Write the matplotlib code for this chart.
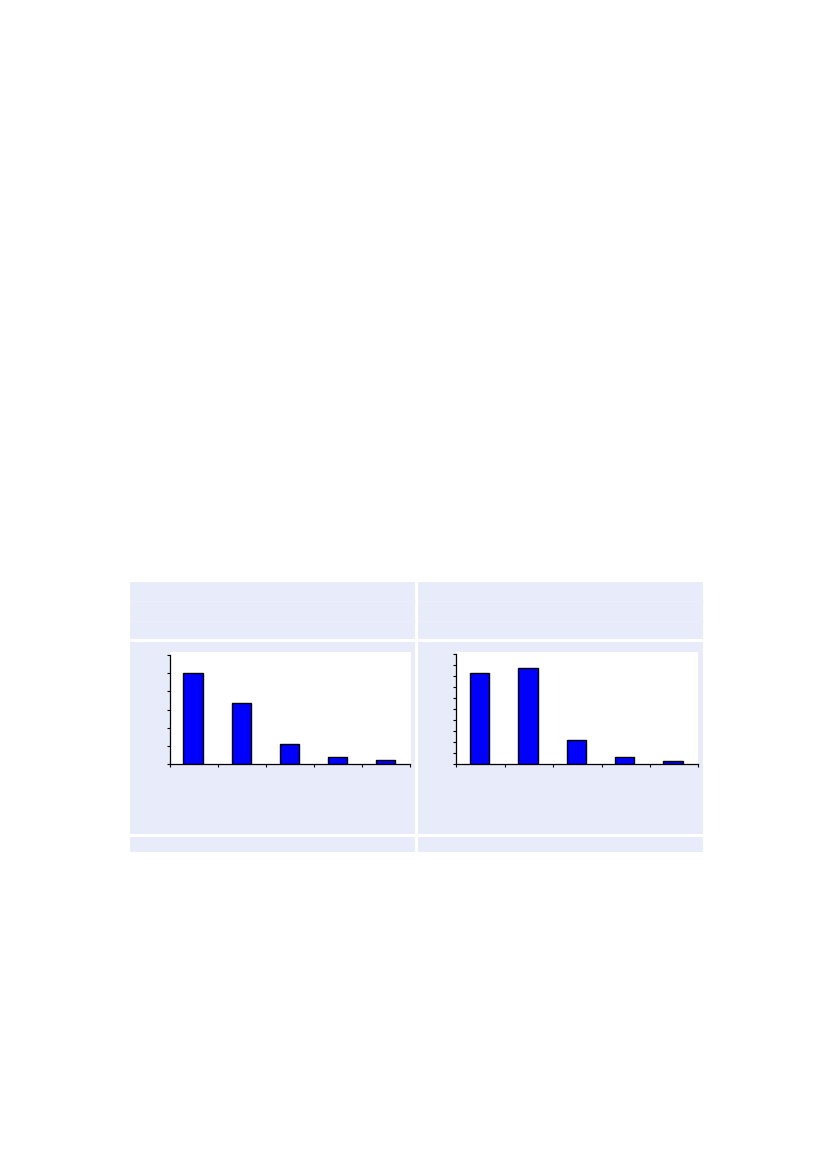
import numpy as np
import matplotlib
matplotlib.use("Agg")
import matplotlib.pyplot as plt
from matplotlib.patches import Rectangle

# bar heights
left_vals = [5.0, 3.35, 1.10, 0.40, 0.22]
right_vals = [8.30, 8.73, 2.21, 0.64, 0.27]
left_ymax = 6
right_ymax = 10

W, H = 827, 1169
fig = plt.figure(figsize=(W / 100, H / 100), dpi=100)
fig.patch.set_facecolor('white')

# background "table" cells, drawn in pixel coords
bg = fig.add_axes([0, 0, 1, 1])
bg.set_xlim(0, W)
bg.set_ylim(H, 0)
bg.axis('off')

cell_col = '#e8ebf9'
cols = [(130, 414.7), (418, 703)]
rows = [(582, 639.3), (642.3, 834), (836.7, 852)]
for x0, x1 in cols:
    for y0, y1 in rows:
        bg.add_patch(Rectangle((x0, y0), x1 - x0, y1 - y0, facecolor=cell_col,
                               edgecolor='none'))
    # faint separators in the header row
    for yy in (601, 620.5):
        bg.plot([x0, x1], [yy, yy], color='#edf0fb', lw=0.6)

# white plot regions
bg.add_patch(Rectangle((170, 652), 241, 112.3, facecolor='white', edgecolor='none'))
bg.add_patch(Rectangle((456.3, 652), 242, 112.3, facecolor='white', edgecolor='none'))


def panel(rect, vals, ymax):
    ax = fig.add_axes(rect)
    ax.patch.set_alpha(0)
    x = np.arange(len(vals)) + 0.48
    ax.bar(x, vals, width=0.4, color='#0000ff', edgecolor='black', linewidth=1.0)
    ax.set_xlim(0, len(vals))
    ax.set_ylim(0, ymax)
    ax.set_xticks(np.arange(len(vals) + 1))
    ax.set_yticks(np.arange(ymax + 1))
    ax.set_xticklabels([])
    ax.set_yticklabels([])
    ax.tick_params(direction='out', length=2.5, width=0.8, color='black')
    for s in ('top', 'right'):
        ax.spines[s].set_visible(False)
    for s in ('left', 'bottom'):
        ax.spines[s].set_linewidth(0.9)
    return ax


panel([170 / W, (H - 764.3) / H, 240.3 / W, 109.3 / H], left_vals, left_ymax)
panel([456.3 / W, (H - 764.3) / H, 242 / W, 110 / H], right_vals, right_ymax)

plt.savefig('out.png', dpi=100)
